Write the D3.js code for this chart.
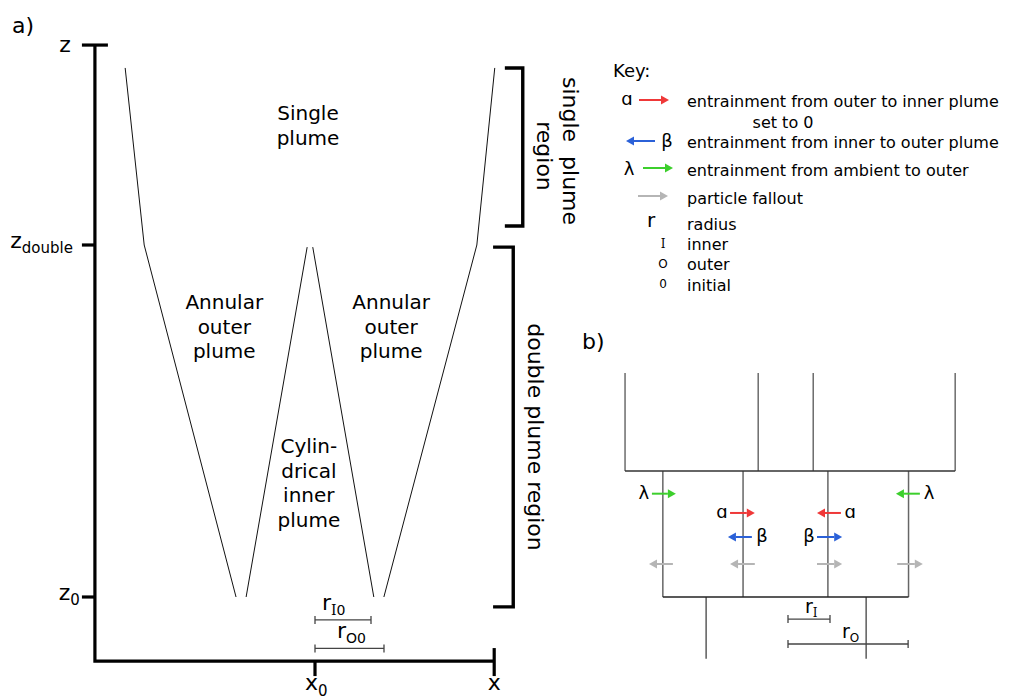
<!DOCTYPE html>
<html>
<head>
<meta charset="utf-8">
<script src="https://cdn.jsdelivr.net/npm/d3@7"></script>
<style>
  body { margin: 0; background: #fff; }
  svg { display: block; font-family: "DejaVu Sans", Verdana, sans-serif; }
</style>
</head>
<body>
<svg id="fig" width="1011" height="699"></svg>
<script>
// ---------- Panel a: plume geometry (x in units of r_I0, z in units of z_double) ----------
const zAxisExtent = [-0.182, 1.568];
const xAxisExtent = [-3.93, 3.2];
const zLevelNames = ["z", "z", "z"];
const zLevelSubs = ["", "double", "0"];
const zLevelValues = [1.568, 1, 0];
const xLevelNames = ["x", "x"];
const xLevelSubs = ["0", ""];
const xLevelValues = [0, 3.2];

const outerLeftEdge = [[-3.39, 1.503], [-3.05, 1.0], [-1.41, 0]];
const innerLeftEdge = [[-1.23, 0], [-0.14, 0.994]];
const innerRightEdge = [[-0.04, 0.994], [1.05, 0]];
const outerRightEdge = [[1.23, 0], [2.89, 1.0], [3.21, 1.503]];

const initialRadiusSubs = ["I0", "O0"];
const initialRadiusValues = [1, 1.232];
const initialRadiusLevels = [-0.065, -0.146];

const plumeLabelLines = [["Single", "plume"], ["Annular", "outer", "plume"], ["Annular", "outer", "plume"], ["Cylin-", "drical", "inner", "plume"]];
const plumeLabelX = [-0.125, -1.62, 1.36, -0.11];
const plumeLabelZ = [1.355, 0.818, 0.818, 0.409];

const regionNames = [["single  plume", "region"], ["double plume region"]];
const regionTop = [1.503, 0.994];
const regionBottom = [1.054, -0.028];
const regionX = [3.71, 3.54];
const regionXInner = [3.39, 3.18];

// ---------- Key ----------
const keyKinds = ["alpha", "beta", "lambda", "fallout", "r", "I", "O", "0"];
const keySymbols = ["ɑ", "β", "λ", "", "r", "I", "O", "0"];
const keyTexts = ["entrainment from outer to inner plume", "entrainment from inner to outer plume",
  "entrainment from ambient to outer", "particle fallout", "radius", "inner", "outer", "initial"];
const keyNote = "set to 0";

// ---------- Panel b: plume cross-section (x in units of r_I, z in units of cell height) ----------
const topWalls = [-3.88, -0.71, 0.60, 3.98];
const topWallRange = [1, 1.778];
const midWalls = [-2.98, -1.07, 0.95, 2.87];
const midWallRange = [0, 1];
const lowWalls = [-1.95, 1.86];
const lowWallRange = [0, -0.49];
const radiusSubs = ["I", "O"];
const radiusValues = [1, 2.86];
const radiusLevels = [-0.175, -0.373];

const fluxKinds = ["lambda", "lambda", "alpha", "alpha", "beta", "beta", "fallout", "fallout", "fallout", "fallout"];
const fluxFrom = [-3.24, 3.14, -1.38, 1.26, -0.86, 0.69, -2.74, -0.79, 0.69, 2.60];
const fluxTo = [-2.67, 2.57, -0.79, 0.69, -1.43, 1.29, -3.31, -1.38, 1.29, 3.21];
const fluxZ = [0.82, 0.82, 0.667, 0.667, 0.476, 0.476, 0.262, 0.262, 0.262, 0.262];
const fluxSymbols = ["λ", "λ", "ɑ", "ɑ", "β", "β", "", "", "", ""];
const fluxSymbolX = [-3.43, 3.36, -1.57, 1.48, -0.62, 0.5, 0, 0, 0, 0];

// ---------- styles ----------
const flowColour = { alpha: "#ef3838", beta: "#2b61d8", lambda: "#3ccf2c", fallout: "#b5b5b5" };
const symbolGlyph = { alpha: "ɑ", beta: "β", lambda: "λ" };

const svg = d3.select("#fig");

// text with an optional subscript
function label(g, x, y, main, sub, opt = {}) {
  const t = g.append("text").attr("x", x).attr("y", y)
    .attr("font-size", opt.size || 20)
    .attr("text-anchor", opt.anchor || "start")
    .attr("fill", "#000");
  t.append("tspan").text(main);
  if (sub) {
    const sSize = opt.subSize || 13;
    let dy = opt.subShift || 5;
    for (const ch of sub) {
      t.append("tspan").attr("dy", dy).attr("font-size", sSize)
        .attr("font-family", ch === "I" ? "DejaVu Serif" : null)
        .text(ch);
      dy = 0;
    }
  }
  return t;
}

// horizontal arrow from x1 to x2 at y
function arrow(g, x1, x2, y, colour) {
  const dir = Math.sign(x2 - x1);
  const head = 8, half = 4.5;
  g.append("line").attr("x1", x1).attr("x2", x2 - dir * head).attr("y1", y).attr("y2", y)
    .attr("stroke", colour).attr("stroke-width", 2);
  g.append("path")
    .attr("d", `M${x2},${y}L${x2 - dir * head},${y - half}L${x2 - dir * head},${y + half}Z`)
    .attr("fill", colour);
}

// ================= Panel a =================
const X = d3.scaleLinear().domain([0, 1]).range([315, 371]);
const Z = d3.scaleLinear().domain([0, 1]).range([597, 245]);
const edge = d3.line().x(d => X(d[0])).y(d => Z(d[1]));
const ga = svg.append("g");

ga.append("text").attr("x", 12).attr("y", 33).attr("font-size", 22).text("a)");

// axes
ga.append("path")
  .attr("d", `M${X(xAxisExtent[0])},${Z(zAxisExtent[1])}V${Z(zAxisExtent[0])}H${X(xAxisExtent[1])}`)
  .attr("fill", "none").attr("stroke", "#000").attr("stroke-width", 3.2);

zLevelValues.forEach((z, i) => {
  const y = Z(z);
  const x0 = X(xAxisExtent[0]);
  const right = i === 0 ? 13 : 0;
  ga.append("line").attr("x1", x0 - 13).attr("x2", x0 + right).attr("y1", y).attr("y2", y)
    .attr("stroke", "#000").attr("stroke-width", 3.2);
  const lab = label(ga, x0 - (i === 0 ? 24 : i === 1 ? 22 : 15), y + (i === 0 ? 7 : 3), zLevelNames[i], zLevelSubs[i],
    { anchor: "end", size: 22, subSize: 15, subShift: 5 });
});

xLevelValues.forEach((x, i) => {
  const px = X(x);
  const y = Z(zAxisExtent[0]);
  ga.append("line").attr("x1", px).attr("x2", px).attr("y1", i === 0 ? y : y - 13).attr("y2", y + 15)
    .attr("stroke", "#000").attr("stroke-width", 3.2);
  label(ga, i === 0 ? px - 10 : px, 690, xLevelNames[i], xLevelSubs[i],
    { anchor: i === 0 ? "start" : "middle", size: 22, subSize: 15, subShift: 6 });
});

// plume edges
[outerLeftEdge, innerLeftEdge, innerRightEdge, outerRightEdge].forEach(pts => {
  ga.append("path").attr("d", edge(pts)).attr("fill", "none")
    .attr("stroke", "#111").attr("stroke-width", 1);
});

// plume labels
plumeLabelLines.forEach((lines, i) => {
  lines.forEach((s, j) => {
    ga.append("text").attr("x", X(plumeLabelX[i])).attr("y", Z(plumeLabelZ[i]) + j * 24.6)
      .attr("text-anchor", "middle").attr("font-size", 20).text(s);
  });
});

// initial radii bars
initialRadiusValues.forEach((r, i) => {
  const y = Z(initialRadiusLevels[i]);
  const g = ga.append("g").attr("stroke", "#444").attr("stroke-width", 1.3);
  g.append("line").attr("x1", X(0)).attr("x2", X(r)).attr("y1", y).attr("y2", y);
  g.append("line").attr("x1", X(0)).attr("x2", X(0)).attr("y1", y - 4).attr("y2", y + 4);
  g.append("line").attr("x1", X(r)).attr("x2", X(r)).attr("y1", y - 4).attr("y2", y + 4);
  label(ga, i === 0 ? 322 : 337, y - 10, "r", initialRadiusSubs[i], { size: 22, subSize: 14, subShift: 5 });
});

// region brackets
regionNames.forEach((lines, i) => {
  const xo = X(regionX[i]), xi = X(regionXInner[i]);
  const y1 = Z(regionTop[i]), y2 = Z(regionBottom[i]);
  ga.append("path").attr("d", `M${xi},${y1}H${xo}V${y2}H${xi}`)
    .attr("fill", "none").attr("stroke", "#000").attr("stroke-width", 3.4);
});
// rotated region names
const regionTextX = [[563, 537], [528]];
const regionTextY = [[151, 156], [437]];
regionNames.forEach((lines, i) => {
  lines.forEach((s, j) => {
    ga.append("text")
      .attr("transform", `translate(${regionTextX[i][j]},${regionTextY[i][j]}) rotate(90)`)
      .attr("text-anchor", "middle").attr("font-size", 22)
      .style("white-space", "pre").text(s);
  });
});

// ================= Key =================
const gk = svg.append("g");
gk.append("text").attr("x", 613).attr("y", 77).attr("font-size", 18).text("Key:");
const keyTextY = [107, 148, 176, 204, 230, 250, 270, 291];
const keyArrowSpan = { alpha: [639, 669, 100], beta: [655, 626, 141], lambda: [643, 673, 168], fallout: [638, 668, 196] };
const keySymbolPos = { alpha: [627, 105, 18], beta: [667, 147, 18], lambda: [629, 175, 18], r: [651, 227, 20], I: [663, 248, 12], O: [663, 268, 12], "0": [663, 288, 12] };
keyKinds.forEach((k, i) => {
  gk.append("text").attr("x", 687).attr("y", keyTextY[i]).attr("font-size", 16).text(keyTexts[i]);
  if (keyArrowSpan[k]) {
    const [a, b, y] = keyArrowSpan[k];
    arrow(gk, a, b, y, flowColour[k]);
  }
  if (keySymbols[i]) {
    const [sx, sy, fs] = keySymbolPos[k];
    gk.append("text").attr("x", sx).attr("y", sy).attr("font-size", fs)
      .attr("text-anchor", "middle")
      .attr("font-family", k === "I" ? "DejaVu Serif" : null)
      .text(keySymbols[i]);
  }
});
gk.append("text").attr("x", 783).attr("y", 128).attr("font-size", 16)
  .attr("text-anchor", "middle").text(keyNote);

// ================= Panel b =================
const XB = d3.scaleLinear().domain([0, 1]).range([788, 830]);
const ZB = d3.scaleLinear().domain([0, 1]).range([597, 471]);
const gb = svg.append("g");
gb.append("text").attr("x", 582).attr("y", 349).attr("font-size", 22).text("b)");

const wall = (x, range, colour, w) => gb.append("line")
  .attr("x1", XB(x)).attr("x2", XB(x)).attr("y1", ZB(range[0])).attr("y2", ZB(range[1]))
  .attr("stroke", colour).attr("stroke-width", w);
topWalls.forEach(x => wall(x, topWallRange, "#555", 1.3));
midWalls.forEach(x => wall(x, midWallRange, "#666", 1.5));
lowWalls.forEach(x => wall(x, lowWallRange, "#333", 1.2));
gb.append("line").attr("x1", XB(topWalls[0])).attr("x2", XB(topWalls[3]))
  .attr("y1", ZB(1)).attr("y2", ZB(1)).attr("stroke", "#333").attr("stroke-width", 1.3);
gb.append("line").attr("x1", XB(midWalls[0])).attr("x2", XB(midWalls[3]))
  .attr("y1", ZB(0)).attr("y2", ZB(0)).attr("stroke", "#222").attr("stroke-width", 1.3);

radiusValues.forEach((r, i) => {
  const y = ZB(radiusLevels[i]);
  const g = gb.append("g").attr("stroke", "#444").attr("stroke-width", 1.3);
  g.append("line").attr("x1", XB(0)).attr("x2", XB(r)).attr("y1", y).attr("y2", y);
  g.append("line").attr("x1", XB(0)).attr("x2", XB(0)).attr("y1", y - 4).attr("y2", y + 4);
  g.append("line").attr("x1", XB(r)).attr("x2", XB(r)).attr("y1", y - 4).attr("y2", y + 4);
  label(gb, i === 0 ? 805 : 842, i === 0 ? 613 : 638, "r", radiusSubs[i], { size: 19, subSize: 12, subShift: 4 });
});

fluxKinds.forEach((k, i) => {
  const y = ZB(fluxZ[i]);
  arrow(gb, XB(fluxFrom[i]), XB(fluxTo[i]), y, flowColour[k]);
  if (fluxSymbols[i]) {
    gb.append("text").attr("x", XB(fluxSymbolX[i])).attr("y", y + 5)
      .attr("text-anchor", "middle").attr("font-size", 18).text(fluxSymbols[i]);
  }
});
</script>
</body>
</html>
